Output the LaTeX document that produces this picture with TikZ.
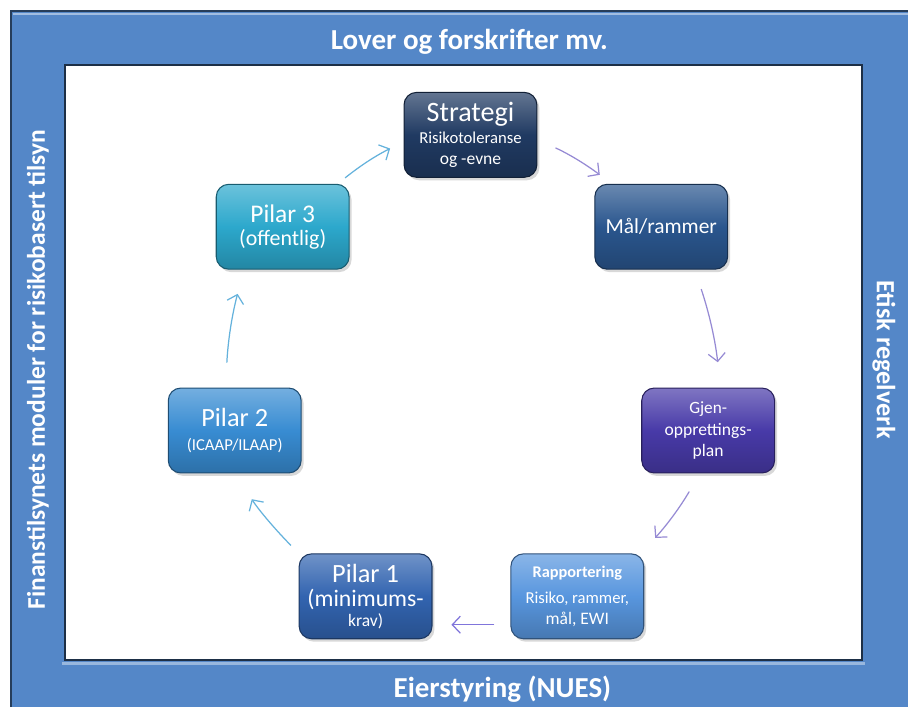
\documentclass[tikz,border=0pt]{standalone}
\usepackage{fontspec}
\setmainfont{Carlito}
\usetikzlibrary{arrows.meta}
\usetikzlibrary{shadows}
\definecolor{ramme}{RGB}{84,135,200}
\definecolor{strategifarge}{RGB}{32,58,98}
\definecolor{maalfarge}{RGB}{42,86,142}
\definecolor{gjenfarge}{RGB}{72,58,168}
\definecolor{rappfarge}{RGB}{88,150,222}
\definecolor{pilarenfarge}{RGB}{50,100,176}
\definecolor{pilartofarge}{RGB}{56,140,210}
\definecolor{pilartrefarge}{RGB}{44,168,204}
\definecolor{pilblaa}{RGB}{100,178,220}
\definecolor{pillilla}{RGB}{150,138,212}
\tikzset{
  boks/.style={rectangle, rounded corners=0.25cm,
               minimum width=2.66cm, minimum height=1.7cm,
               draw=#1!55!black, line width=0.6pt,
               top color=#1!70!white, bottom color=#1!80!black, middle color=#1,
               text=white, align=center, inner sep=2pt,
               drop shadow={opacity=0.3, shadow xshift=0.05cm, shadow yshift=-0.06cm}},
  pil/.style={-{Straight Barb[length=1.6mm,width=3.4mm]}, line width=0.7pt, #1},
  tittel/.style={text=white, font=\bfseries\fontsize{16.5}{18}\selectfont},
}

\begin{document}
\begin{tikzpicture}[x=0.02cm, y=-0.02cm]
    % ramme
    \fill[white] (0,0) rectangle (909,708);
    \fill[ramme] (11,11) rectangle (909,708);
    \draw[ramme!45!black, line width=1pt] (11,708) -- (11,11) -- (909,11);
    \draw[ramme!55!white, line width=1.2pt] (13,14) -- (909,14);
    \fill[white] (65,65) rectangle (863,661);
    \draw[ramme!60!white, line width=1.6pt] (62,664) -- (866,664);
    \draw[ramme!35!black, line width=1.2pt] (65,65) rectangle (863,661);

    \node[tittel] (lover) at (470,42) {Lover og forskrifter mv.};
    \node[tittel] (eier) at (503,690) {Eierstyring (NUES)};
    \node[tittel, rotate=90, font=\bfseries\fontsize{14.5}{16}\selectfont] (finans) at (38,370)
        {Finanstilsynets moduler for risikobasert tilsyn};
    \node[tittel, rotate=-90, font=\bfseries\fontsize{15}{16}\selectfont] (etisk) at (885,360)
        {Etisk regelverk};

    % boksene
    \node[boks=strategifarge] (strategi) at (471,135)
        {\fontsize{16}{17}\selectfont Strategi\\[1pt]
         \fontsize{9.5}{11}\selectfont Risikotoleranse\\ og -evne};
    \node[boks=maalfarge] (maal) at (662,227)
        {\fontsize{12.2}{14}\selectfont Mål/rammer};
    \node[boks=gjenfarge] (gjen) at (709,431)
        {\fontsize{9.8}{12}\selectfont Gjen-\\ opprettings-\\ plan};
    \node[boks=rappfarge] (rapp) at (578,597)
        {\fontsize{9.3}{12}\selectfont\bfseries Rapportering\\[3pt]
         \fontsize{9.5}{11.5}\selectfont Risiko, rammer,\\ mål, EWI};
    \node[boks=pilarenfarge] (pilar1) at (366,597)
        {\fontsize{15}{17}\selectfont Pilar 1\\[2pt]
         \fontsize{13.5}{15}\selectfont (minimums-\\[-1pt] krav)};
    \node[boks=pilartofarge] (pilar2) at (235,431)
        {\fontsize{15}{17}\selectfont Pilar 2\\[2pt]
         \fontsize{9.5}{11}\selectfont (ICAAP/ILAAP)};
    \node[boks=pilartrefarge] (pilar3) at (283,227)
        {\fontsize{14.5}{17}\selectfont Pilar 3\\[1pt]
         \fontsize{12.5}{14}\selectfont (offentlig)};

    % pilene
    \draw[pil=pilblaa, shorten <=0.19cm, shorten >=0.3cm] (pilar3.38) to[bend left=6] (strategi.186);
    \draw[pil=pillilla, shorten <=0.4cm, shorten >=0.3cm] (strategi.356) to[bend left=6] (maal.139);
    \draw[pil=pillilla, shorten <=0.41cm, shorten >=0.51cm] (maal.308) to[bend left=6] (gjen.74);
    \draw[pil=pillilla, shorten <=0.42cm, shorten >=0.42cm] (gjen.259) to[bend left=6] (rapp.34);
    \draw[pil=pillilla!85!blue, shorten <=0.32cm, shorten >=0.38cm] (rapp.203) to (pilar1.337);
    \draw[pil=pilblaa, shorten <=0.22cm, shorten >=0.61cm] (pilar1.north west) to[bend left=6] (pilar2.271);
    \draw[pil=pilblaa, shorten <=0.5cm, shorten >=0.5cm] (pilar2.102) to[bend left=6] (pilar3.228);
\end{tikzpicture}
\end{document}
